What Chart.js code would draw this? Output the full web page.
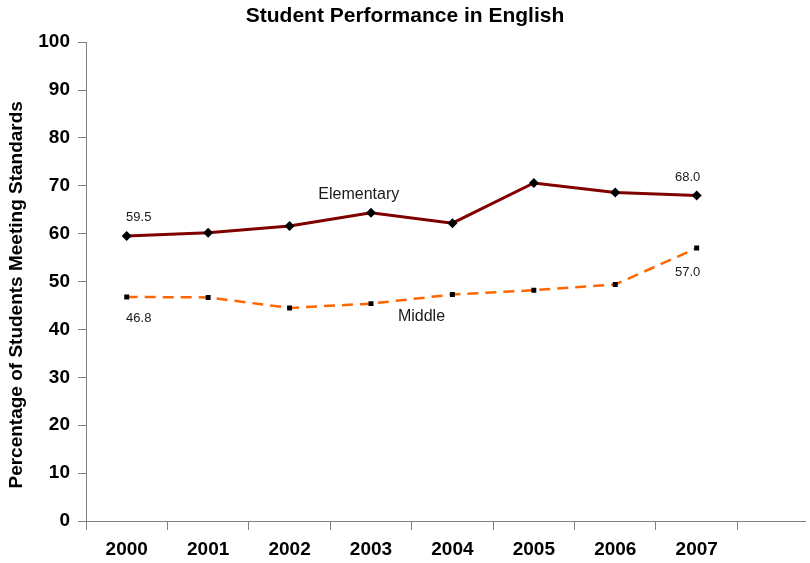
<!DOCTYPE html>
<html lang="en">
<head>
  <meta charset="UTF-8" />
  <title>Student Performance in English</title>
  <style>
    body { margin: 0; background: #fff; }
    canvas { display: block; }
  </style>
</head>
<body>
  <canvas id="perfChart" width="810" height="563"></canvas>

  <script src="https://cdn.jsdelivr.net/npm/chart.js"></script>
  <script>
    const years = ['2000', '2001', '2002', '2003', '2004', '2005', '2006', '2007'];
    const elementary = [59.5, 60.2, 61.6, 64.4, 62.2, 70.6, 68.6, 68.0];
    const middle = [46.8, 46.7, 44.5, 45.4, 47.3, 48.2, 49.4, 57.0];
    const yTicks = [0, 10, 20, 30, 40, 50, 60, 70, 80, 90, 100];

    const axisGray = '#808080';
    const font = 'Arial, "Liberation Sans", sans-serif';

    // point labels and series names drawn next to the lines
    const annotations = {
      id: 'annotations',
      afterDatasetsDraw(chart) {
        const ctx = chart.ctx;
        const x = chart.scales.x, y = chart.scales.y;
        const last = years.length - 1;
        ctx.save();
        ctx.fillStyle = '#1a1a1a';
        ctx.textAlign = 'center';
        ctx.textBaseline = 'middle';
        ctx.font = '13px ' + font;
        ctx.fillText(elementary[0].toFixed(1), x.getPixelForValue(0) + 12, y.getPixelForValue(elementary[0]) - 19);
        ctx.fillText(middle[0].toFixed(1), x.getPixelForValue(0) + 12, y.getPixelForValue(middle[0]) + 22);
        ctx.fillText(elementary[last].toFixed(1), x.getPixelForValue(last) - 9, y.getPixelForValue(elementary[last]) - 18);
        ctx.fillText(middle[last].toFixed(1), x.getPixelForValue(last) - 9, y.getPixelForValue(middle[last]) + 24);
        ctx.font = '16px ' + font;
        ctx.fillText('Elementary', x.getPixelForValue(2.85), y.getPixelForValue(elementary[3]) - 18);
        ctx.fillText('Middle', x.getPixelForValue(3.62), y.getPixelForValue(middle[3]) + 13);
        ctx.restore();
      }
    };

    new Chart(document.getElementById('perfChart'), {
      type: 'line',
      data: {
        datasets: [{
          label: 'Elementary',
          data: elementary.map((v, i) => ({ x: i, y: v })),
          borderColor: '#800000',
          borderWidth: 3,
          pointStyle: 'rectRot',
          pointRadius: 5,
          pointBackgroundColor: '#000',
          pointBorderColor: '#000',
          pointBorderWidth: 0,
          tension: 0
        }, {
          label: 'Middle',
          data: middle.map((v, i) => ({ x: i, y: v })),
          borderColor: '#ff6600',
          borderWidth: 2.5,
          borderDash: [11, 7],
          pointStyle: 'rect',
          pointRadius: 3.5,
          pointBackgroundColor: '#000',
          pointBorderColor: '#000',
          pointBorderWidth: 0,
          tension: 0
        }]
      },
      options: {
        responsive: false,
        animation: false,
        layout: { padding: { top: 0, right: 0, bottom: 0, left: 0 } },
        plugins: {
          legend: { display: false },
          tooltip: { enabled: false },
          title: {
            display: true,
            text: 'Student Performance in English',
            color: '#000',
            font: { family: font, size: 21, weight: 'bold' },
            padding: { top: 4, bottom: 13 }
          }
        },
        scales: {
          x: {
            type: 'linear',
            min: -0.5,
            max: 8.33,
            afterBuildTicks(scale) {
              // year labels at whole values, tick marks between categories
              const t = [];
              for (let i = 0; i <= years.length; i++) {
                t.push({ value: i - 0.5 });
                if (i < years.length) t.push({ value: i });
              }
              scale.ticks = t;
            },
            afterFit(scale) { scale.height = 42; },
            border: { color: axisGray, width: 1 },
            grid: {
              drawOnChartArea: false,
              tickLength: 9,
              tickColor: c => Number.isInteger(c.tick.value) ? 'rgba(0,0,0,0)' : axisGray
            },
            ticks: {
              autoSkip: false,
              maxRotation: 0,
              padding: 8,
              color: '#000',
              font: { family: font, size: 19, weight: 'bold' },
              callback: v => Number.isInteger(v) ? (years[v] || '') : ''
            }
          },
          y: {
            min: 0,
            max: 100,
            afterBuildTicks(scale) { scale.ticks = yTicks.map(v => ({ value: v })); },
            afterFit(scale) { scale.width = 86; },
            border: { color: axisGray, width: 1 },
            grid: { drawOnChartArea: false, tickLength: 8, tickColor: axisGray },
            ticks: {
              padding: 8,
              color: '#000',
              font: { family: font, size: 19, weight: 'bold' }
            },
            title: {
              display: true,
              text: 'Percentage of Students Meeting Standards     ',
              color: '#000',
              font: { family: font, size: 19, weight: 'bold' },
              padding: { top: 5, bottom: 0 }
            }
          }
        }
      },
      plugins: [annotations]
    });
  </script>
</body>
</html>
